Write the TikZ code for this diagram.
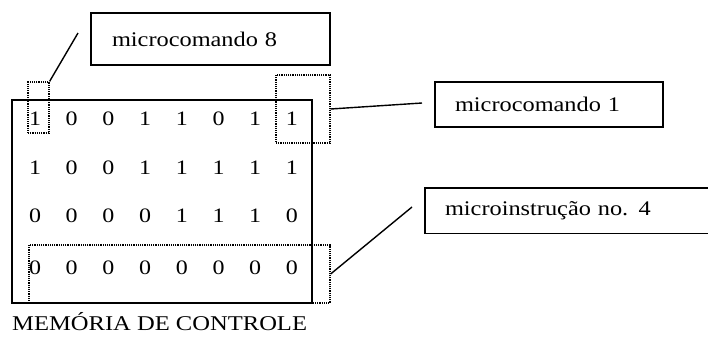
\documentclass[tikz,border=0pt]{standalone}
\usepackage{fontspec}
\setmainfont[FakeStretch=1.17]{Liberation Serif}
\begin{document}
\begin{tikzpicture}[x=1pt,y=-1pt,
  bit/.style={font=\fontsize{20.5}{24}\selectfont, inner sep=0pt},
  framebox/.style={draw, line width=1.4pt, inner sep=0pt},
  label/.style={font=\fontsize{20.8}{24}\selectfont, align=left, inner ysep=0pt},
  selbox/.style={draw, densely dotted, line width=1.2pt, inner sep=0pt},
  lead/.style={line width=1.4pt}]
\useasboundingbox (0,0) rectangle (708,338);

% control memory frame
\node[draw, line width=1.7pt, minimum width=300pt, minimum height=203pt, inner sep=0pt] (mem) at (162,201.5) {};

% memory contents
\foreach \row [count=\r] in {{1,0,0,1,1,0,1,1},{1,0,0,1,1,1,1,1},{0,0,0,0,1,1,1,0},{0,0,0,0,0,0,0,0}}{
  \pgfmathsetmacro{\yy}{\r==1 ? 119 : (\r==2 ? 168 : (\r==3 ? 216 : 268))}
  \foreach \b [count=\c] in \row{
    \node[bit] (d-\r-\c) at ({35+36.7*(\c-1)},\yy) {\b};
  }
}

% dotted selections
\node[selbox, minimum width=21pt, minimum height=51pt] (sel8) at (38.5,107.5) {};
\node[selbox, minimum width=54pt, minimum height=68pt] (sel1) at (303,109) {};
\node[selbox, minimum width=301pt, minimum height=58pt] (row4) at (179.5,274) {};

% callout boxes
\node[framebox, label, minimum width=239pt, minimum height=52pt, text width=197pt, inner xsep=21pt] (b8) at (210.5,39) {microcomando 8};
\node[framebox, label, minimum width=228pt, minimum height=45pt, text width=188pt, inner xsep=20pt] (b1) at (549,104.5) {microcomando 1};
\node[label, minimum width=283pt, minimum height=45pt, text width=243pt, inner xsep=20pt] (b4) at (566.5,210.5) {microinstrução no. 4};
\draw[line width=1.4pt] (b4.north east) -- (b4.north west) -- (b4.south west) -- (b4.south east);

% leader lines
\coordinate (c8) at (78,33);
\coordinate (c1) at (422,103);
\coordinate (c4) at (412,207);
\draw[lead] (sel8.north east) -- (c8);
\draw[lead] (sel1.east) -- (c1);
\draw[lead] (row4.east) -- (c4);

% caption
\node[font=\fontsize{21}{25}\selectfont, anchor=base west, inner sep=0pt] (cap) at (12,330) {MEMÓRIA DE CONTROLE};
\end{tikzpicture}
\end{document}
